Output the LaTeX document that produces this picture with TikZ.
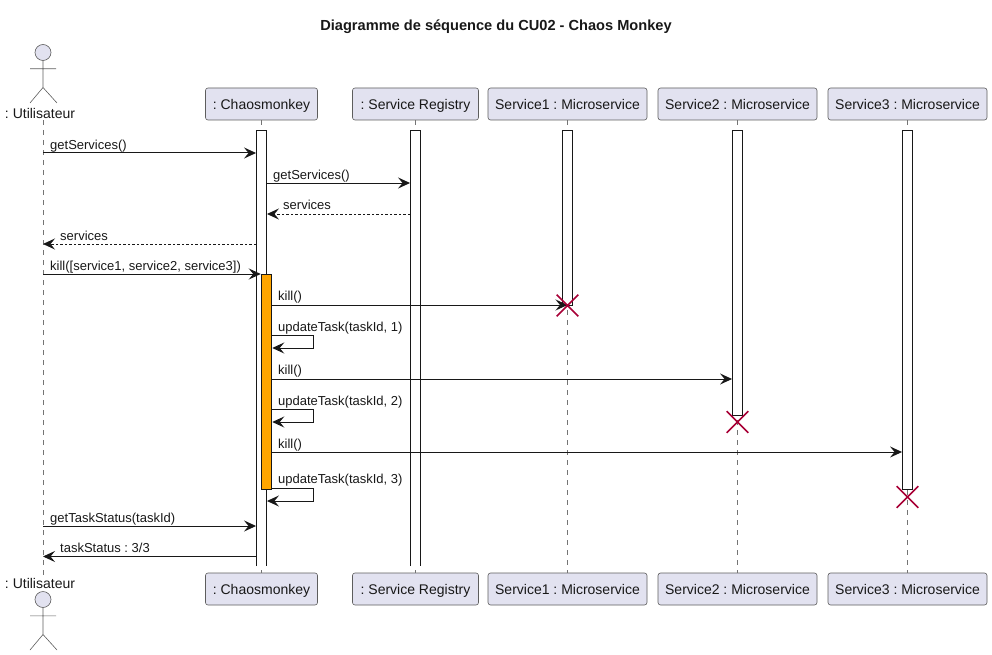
\documentclass[tikz,border=0pt]{standalone}
\usepackage{fontspec}
\setmainfont{Liberation Sans}
\usepackage{xcolor}
\usetikzlibrary{arrows.meta,shapes.misc}
\definecolor{lineink}{HTML}{181818}
\definecolor{softlilac}{HTML}{E2E2F0}
\definecolor{killred}{HTML}{A80036}
\definecolor{taskorange}{HTML}{FFA500}
\frenchspacing
\begin{document}
\begin{tikzpicture}[
 x=1pt,y=-1pt,
 every node/.style={font=\fontsize{13}{15}\selectfont,text=lineink},
 box/.style={draw=lineink!70,line width=0.6pt,rounded corners=2.5pt,fill=softlilac,minimum height=32pt,inner xsep=0pt,inner ysep=0pt,text height=12pt,text depth=1pt,font=\fontsize{14}{16}\selectfont},
 who/.style={inner sep=0pt,font=\fontsize{14}{16}\selectfont},
 head/.style={circle,draw=lineink!70,line width=0.6pt,fill=softlilac,minimum size=16pt,inner sep=0pt},
 stick/.style={draw=lineink!70,line width=0.6pt},
 life/.style={draw=lineink!60,line width=0.7pt,dash pattern=on 5pt off 5pt},
 bar/.style={fill=white,minimum width=10.5pt,inner sep=0pt},
 edgeline/.style={draw=lineink,line width=1pt},
 taskbar/.style={draw=lineink,line width=1pt,fill=taskorange,minimum width=10.5pt,inner sep=0pt},
 killmark/.style={cross out,draw=killred,line width=1.6pt,minimum size=20pt,inner sep=0pt},
 msg/.style={anchor=base west,inner sep=0pt},
 arr/.style={-{Stealth[length=12pt,width=11pt,inset=4.5pt]},draw=lineink,line width=1pt},
 ret/.style={arr,dash pattern=on 2.5pt off 2pt}
]
\useasboundingbox (0,0) rectangle (992,655);
\node[inner sep=0pt,font=\fontsize{14.6}{16}\selectfont\bfseries] (title) at (496,26.5) {Diagramme de séquence du CU02 - Chaos Monkey};

% participants, top and bottom row
\node[box,minimum width=112pt] (chaosT) at (261.5,104) {: Chaosmonkey};
\node[box,minimum width=126pt] (regT) at (415.5,104) {: Service Registry};
\node[box,minimum width=159pt] (s1T) at (567.5,104) {Service1 : Microservice};
\node[box,minimum width=159pt] (s2T) at (737.5,104) {Service2 : Microservice};
\node[box,minimum width=159pt] (s3T) at (907.5,104) {Service3 : Microservice};
\node[box,minimum width=112pt] (chaosB) at (261.5,589) {: Chaosmonkey};
\node[box,minimum width=126pt] (regB) at (415.5,589) {: Service Registry};
\node[box,minimum width=159pt] (s1B) at (567.5,589) {Service1 : Microservice};
\node[box,minimum width=159pt] (s2B) at (737.5,589) {Service2 : Microservice};
\node[box,minimum width=159pt] (s3B) at (907.5,589) {Service3 : Microservice};

% actor
\node[head] (headT) at (43,52.5) {};
\node[head] (headB) at (43,599.5) {};
\node[who] (userT) at (40,113) {: Utilisateur};
\node[who] (userB) at (40,583) {: Utilisateur};
\draw[stick] (headT.south)--++(0,27) ++(-13,-19)--++(26,0) (30,103)--(43,87.5)--(57,103);
\draw[stick] (headB.south)--++(0,27) ++(-13,-19)--++(26,0) (30,650)--(43,634.5)--(57,650);
\coordinate (lifeT) at (43,120);
\coordinate (lifeB) at (43,575);

% lifelines
\draw[life] (lifeT)--(lifeB);
\draw[life] (chaosT)--(chaosB);
\draw[life] (regT)--(regB);
\draw[life] (s1T)--(s1B);
\draw[life] (s2T)--(s2B);
\draw[life] (s3T)--(s3B);

% activation bars
\node[bar,minimum height=435pt] (barChaos) at (261.5,348.5) {};
\node[bar,minimum height=435pt] (barReg) at (415.5,348.5) {};
\node[bar,minimum height=174pt] (barS1) at (567.5,218) {};
\node[bar,minimum height=284pt] (barS2) at (737.5,273) {};
\node[bar,minimum height=358pt] (barS3) at (907.5,310) {};
\draw[edgeline] (barChaos.south west)--(barChaos.north west)--(barChaos.north east)--(barChaos.south east);
\draw[edgeline] (barReg.south west)--(barReg.north west)--(barReg.north east)--(barReg.south east);
\draw[edgeline] (barS1.south west) rectangle (barS1.north east);
\draw[edgeline] (barS2.south west) rectangle (barS2.north east);
\draw[edgeline] (barS3.south west) rectangle (barS3.north east);
\node[taskbar,minimum height=215pt] (barTask) at (266.5,381.5) {};

% message heights
\foreach \n/\y in {a/153,b/183,c/214,d/244,e/274,f/305,g/335,gg/348,h/379,i/409,ii/422,j/452,k/488,kk/501,l/526,m/556.5}
 \coordinate (y\n) at (0,\y);

\draw[arr] (lifeT |- ya)--(barChaos.west |- ya);
\node[msg] (m1) at (50,149.5) {getServices()};
\draw[arr] (barChaos.east |- yb)--(barReg.west |- yb);
\node[msg] (m2) at (273,179.5) {getServices()};
\draw[ret] (barReg.west |- yc)--(barChaos.east |- yc);
\node[msg] (m3) at (283,209.5) {services};
\draw[ret] (barChaos.west |- yd)--(lifeT |- yd);
\node[msg] (m4) at (60,240) {services};
\draw[arr] (lifeT |- ye)--(barTask.west |- ye);
\node[msg] (m5) at (50,270) {kill([service1, service2, service3])};
\draw[arr] (barTask.east |- yf)--(barS1 |- yf);
\node[msg] (m6) at (278,300.5) {kill()};
\draw[arr] (barTask.east |- yg)--++(41,0)--++(0,13)--(barTask.east |- ygg);
\node[msg] (m7) at (278,331) {updateTask(taskId, 1)};
\draw[arr] (barTask.east |- yh)--(barS2.west |- yh);
\node[msg] (m8) at (278,374.5) {kill()};
\draw[arr] (barTask.east |- yi)--++(41,0)--++(0,13)--(barTask.east |- yii);
\node[msg] (m9) at (278,405) {updateTask(taskId, 2)};
\draw[arr] (barTask.east |- yj)--(barS3.west |- yj);
\node[msg] (m10) at (278,448) {kill()};
\draw[arr] (barTask.east |- yk)--++(41,0)--++(0,13)--(barChaos.east |- ykk);
\node[msg] (m11) at (278,483) {updateTask(taskId, 3)};
\draw[arr] (lifeT |- yl)--(barChaos.west |- yl);
\node[msg] (m12) at (50,522) {getTaskStatus(taskId)};
\draw[arr] (barChaos.west |- ym)--(lifeT |- ym);
\node[msg] (m13) at (60,552) {taskStatus : 3/3};

% destroyed services
\node[killmark] (killS1) at (567.5,305.5) {};
\node[killmark] (killS2) at (737.5,422) {};
\node[killmark] (killS3) at (907.5,497) {};
\end{tikzpicture}
\end{document}
